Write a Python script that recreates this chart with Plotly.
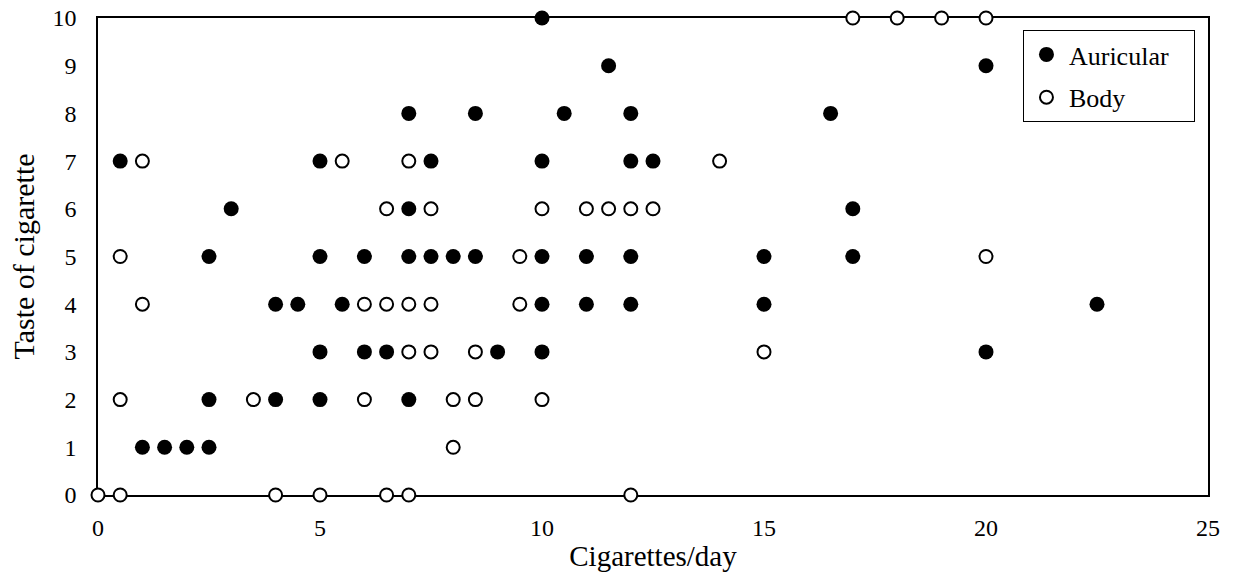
import plotly.graph_objects as go

# Auricular (filled markers)
auricular_x = [10,
               11.5, 20,
               7, 8.5, 10.5, 12, 16.5,
               0.5, 5, 7.5, 10, 12, 12.5,
               3, 7, 17,
               2.5, 5, 6, 7, 7.5, 8, 8.5, 10, 11, 12, 15, 17,
               4, 4.5, 5.5, 10, 11, 12, 15, 22.5,
               5, 6, 6.5, 9, 10, 20,
               2.5, 4, 5, 7,
               1, 1.5, 2, 2.5]
auricular_y = [10,
               9, 9,
               8, 8, 8, 8, 8,
               7, 7, 7, 7, 7, 7,
               6, 6, 6,
               5, 5, 5, 5, 5, 5, 5, 5, 5, 5, 5, 5,
               4, 4, 4, 4, 4, 4, 4, 4,
               3, 3, 3, 3, 3, 3,
               2, 2, 2, 2,
               1, 1, 1, 1]

# Body (open markers)
body_x = [17, 18, 19, 20,
          1, 5.5, 7, 14,
          6.5, 7.5, 10, 11, 11.5, 12, 12.5,
          0.5, 9.5, 20,
          1, 6, 6.5, 7, 7.5, 9.5,
          7, 7.5, 8.5, 15,
          0.5, 3.5, 6, 8, 8.5, 10,
          8,
          0, 0.5, 4, 5, 6.5, 7, 12]
body_y = [10, 10, 10, 10,
          7, 7, 7, 7,
          6, 6, 6, 6, 6, 6, 6,
          5, 5, 5,
          4, 4, 4, 4, 4, 4,
          3, 3, 3, 3,
          2, 2, 2, 2, 2, 2,
          1,
          0, 0, 0, 0, 0, 0, 0]

x_ticks = [0, 5, 10, 15, 20, 25]
y_ticks = list(range(0, 11))

FONT = "Liberation Serif, Times New Roman, serif"

fig = go.Figure()
fig.add_trace(go.Scatter(
    x=auricular_x, y=auricular_y, mode="markers", name="Auricular\u00a0\u00a0\u00a0",
    legendgroup="a",
    marker=dict(symbol="circle", size=15, color="black", line=dict(width=0)),
    cliponaxis=False,
))
fig.add_trace(go.Scatter(
    x=body_x, y=body_y, mode="markers", name="Body",
    legendgroup="b",
    marker=dict(symbol="circle", size=13, color="white", line=dict(width=2, color="black")),
    cliponaxis=False,
))

fig.update_layout(
    width=1236, height=580,
    margin=dict(l=98, r=28, t=18, b=85),
    paper_bgcolor="white", plot_bgcolor="white",
    font=dict(family=FONT, size=24, color="black"),
    showlegend=True,
    legend=dict(
        x=0.8333, y=0.9748, xanchor="left", yanchor="top",
        bordercolor="black", borderwidth=1, bgcolor="white",
        font=dict(family=FONT, size=26, color="black"),
        tracegroupgap=6, traceorder="grouped",
        itemwidth=35,
    ),
    xaxis=dict(
        range=[0, 25], tickvals=x_ticks, ticktext=[str(v) for v in x_ticks],
        showgrid=False, zeroline=False, showline=True, linecolor="black", linewidth=1.5,
        mirror=True, ticks="", ticklabelstandoff=10, automargin=False,
        ticklabeloverflow="allow",
        tickfont=dict(family=FONT, size=24),
        title=dict(text="Cigarettes/day", font=dict(family=FONT, size=29), standoff=6),
        layer="below traces",
    ),
    yaxis=dict(
        range=[0, 10], tickvals=y_ticks, ticktext=[str(v) for v in y_ticks],
        showgrid=False, zeroline=False, showline=True, linecolor="black", linewidth=1.5,
        mirror=True, ticks="", ticklabelstandoff=15, automargin=False,
        ticklabeloverflow="allow",
        tickfont=dict(family=FONT, size=24),
        title=dict(text="Taste of cigarette", font=dict(family=FONT, size=30), standoff=9),
        layer="below traces",
    ),
)

fig.write_html("out.html", config={"displayModeBar": False},
               post_script="document.body.style.margin='0';")
